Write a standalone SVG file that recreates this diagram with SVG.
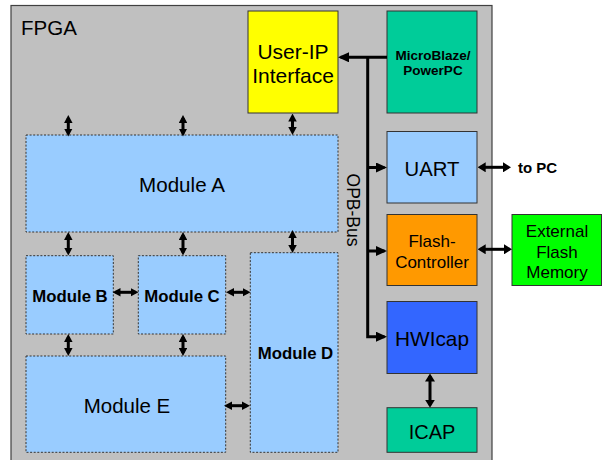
<svg xmlns="http://www.w3.org/2000/svg" width="603" height="460" viewBox="0 0 603 460">
  <style>
    text { font-family: "Liberation Sans", Arial, sans-serif; fill: #000; }
    .box { stroke: #333; stroke-width: 1; }
    .mod { fill: #99CCFF; stroke: #333; stroke-width: 1; stroke-dasharray: 2 1.6; }
    .c { text-anchor: middle; }
    .b { font-weight: bold; }
    .ms { stroke: #000; stroke-width: 3; fill: none; marker-start: url(#hs); marker-end: url(#hs); }
    .bus { stroke: #000; stroke-width: 3; fill: none; stroke-linejoin: miter; marker-end: url(#hb); }
    .ext { stroke: #000; stroke-width: 3; fill: none; marker-start: url(#hd); marker-end: url(#hd); }
  </style>
  <defs>
    <marker id="hs" markerUnits="userSpaceOnUse" viewBox="0 0 8 8.5" refX="5" refY="4.25" markerWidth="8" markerHeight="8.5" orient="auto-start-reverse">
      <path d="M0,0 L8,4.25 L0,8.5 z" fill="#000"/>
    </marker>
    <marker id="hb" markerUnits="userSpaceOnUse" viewBox="0 0 11 10" refX="8.5" refY="5" markerWidth="11" markerHeight="10" orient="auto-start-reverse">
      <path d="M0,0 L11,5 L0,10 z" fill="#000"/>
    </marker>
    <marker id="hd" markerUnits="userSpaceOnUse" viewBox="0 0 8 10" refX="5.5" refY="5" markerWidth="8" markerHeight="10" orient="auto-start-reverse">
      <path d="M0,0 L8,5 L0,10 z" fill="#000"/>
    </marker>
  </defs>

  <rect width="603" height="460" fill="#fff"/>

  <!-- FPGA fabric -->
  <g id="fpga">
    <rect x="11" y="5.5" width="481" height="460" fill="#C0C0C0" stroke="#404040" stroke-width="1.2"/>
    <text x="21" y="35" font-size="20.5">FPGA</text>
    <text class="c" transform="translate(347,210) rotate(90)" font-size="17.5">OPB-Bus</text>
  </g>

  <g id="user-ip">
    <rect class="box" x="248" y="11" width="90" height="102" fill="#FFFF00"/>
    <text class="c" x="293" y="59.3" font-size="21">User-IP</text>
    <text class="c" x="293" y="82.7" font-size="21">Interface</text>
  </g>

  <g id="microblaze">
    <rect class="box" x="387" y="11" width="90" height="102" fill="#00CC99"/>
    <text class="c b" x="433" y="60" font-size="13.5">MicroBlaze/</text>
    <text class="c b" x="433" y="75" font-size="13.5">PowerPC</text>
  </g>

  <g id="uart">
    <rect class="box" x="387" y="131.5" width="90" height="71.5" fill="#99CCFF"/>
    <text class="c" x="432" y="176" font-size="20.3">UART</text>
  </g>

  <g id="to-pc">
    <text class="b" x="518" y="173.3" font-size="15">to PC</text>
  </g>

  <g id="flash-controller">
    <rect class="box" x="387" y="214.5" width="90" height="71" fill="#FF9900"/>
    <text class="c" x="432" y="247.3" font-size="17">Flash-</text>
    <text class="c" x="432" y="267.7" font-size="17">Controller</text>
  </g>

  <g id="external-flash">
    <rect class="box" x="512" y="214.5" width="89.5" height="71" fill="#00FF00"/>
    <text class="c" x="557" y="236.7" font-size="17">External</text>
    <text class="c" x="557" y="257.5" font-size="17">Flash</text>
    <text class="c" x="557" y="278" font-size="17">Memory</text>
  </g>

  <g id="hwicap">
    <rect class="box" x="387" y="301.5" width="90" height="72" fill="#3366FF"/>
    <text class="c" x="432" y="345.7" font-size="20.8">HWIcap</text>
  </g>

  <g id="icap">
    <rect class="box" x="387" y="407.7" width="90" height="44.6" fill="#00CC99"/>
    <text class="c" x="432" y="439.3" font-size="20">ICAP</text>
  </g>

  <g id="module-a">
    <rect class="mod" x="26" y="135" width="312" height="97"/>
    <text class="c" x="182" y="191.7" font-size="20.6">Module A</text>
  </g>

  <g id="module-b">
    <rect class="mod" x="26" y="255.7" width="87.3" height="78.3"/>
    <text class="c b" x="70" y="301.7" font-size="16.8">Module B</text>
  </g>

  <g id="module-c">
    <rect class="mod" x="138.3" y="255.7" width="87.4" height="78.3"/>
    <text class="c b" x="182" y="301.7" font-size="16.8">Module C</text>
  </g>

  <g id="module-d">
    <rect class="mod" x="250.3" y="252.7" width="87.7" height="199.6"/>
    <text class="c b" x="295.5" y="359" font-size="16.8">Module D</text>
  </g>

  <g id="module-e">
    <rect class="mod" x="26" y="356" width="199.7" height="96.3"/>
    <text class="c" x="127" y="412.7" font-size="20.5">Module E</text>
  </g>

  <g id="connectors">
    <!-- module interconnects (line ends sit 3px inside the arrow tips) -->
    <line class="ms" x1="68.3" y1="118" x2="68.3" y2="133.5"/>
    <line class="ms" x1="183" y1="118" x2="183" y2="133.5"/>
    <line class="ms" x1="292.5" y1="116.5" x2="292.5" y2="132"/>
    <line class="ms" x1="68.3" y1="235" x2="68.3" y2="252.5"/>
    <line class="ms" x1="183" y1="235" x2="183" y2="252.5"/>
    <line class="ms" x1="292.5" y1="233" x2="292.5" y2="250"/>
    <line class="ms" x1="68.3" y1="337" x2="68.3" y2="353"/>
    <line class="ms" x1="183" y1="337" x2="183" y2="353"/>
    <line class="ms" x1="115.5" y1="292.3" x2="135.5" y2="292.3"/>
    <line class="ms" x1="229" y1="292.3" x2="247.5" y2="292.3"/>
    <line class="ms" x1="227" y1="405.7" x2="247" y2="405.7"/>

    <!-- OPB bus -->
    <line class="bus" x1="387" y1="57.3" x2="340.5" y2="57.3"/>
    <path class="bus" d="M367.7,57.3 V336.7 H384.5"/>
    <path class="bus" d="M367.7,167.5 H384.5"/>
    <path class="bus" d="M367.7,251 H384.5"/>

    <!-- off-block links -->
    <line class="ext" x1="480.2" y1="167.3" x2="508.5" y2="167.3"/>
    <line class="ext" x1="480.2" y1="249.3" x2="509.5" y2="249.3"/>
    <line class="ext" x1="430" y1="376" x2="430" y2="405.2"/>
  </g>
</svg>
